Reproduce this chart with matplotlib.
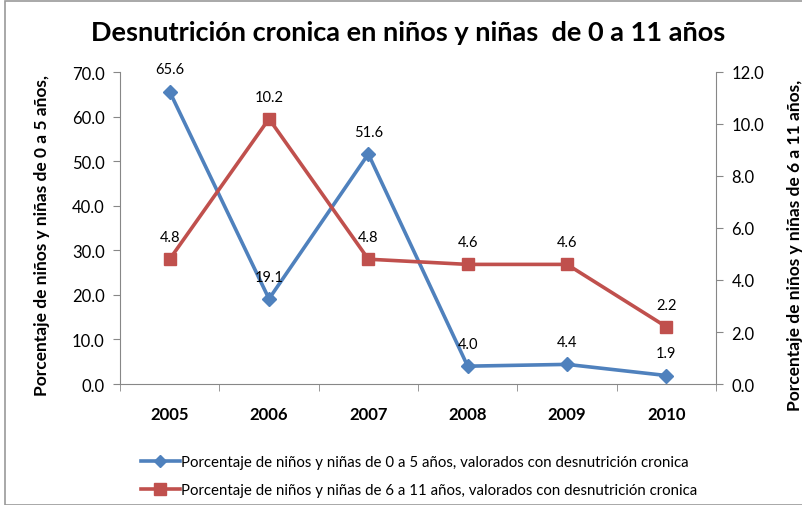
import matplotlib
matplotlib.use("Agg")
import matplotlib.pyplot as plt
from matplotlib.patches import Rectangle
from matplotlib.lines import Line2D

years = ["2005", "2006", "2007", "2008", "2009", "2010"]
ninos_0_5 = [65.6, 19.1, 51.6, 4.0, 4.4, 1.9]
ninos_6_11 = [4.8, 10.2, 4.8, 4.6, 4.6, 2.2]
left_ticks = [0, 10, 20, 30, 40, 50, 60, 70]
right_ticks = [0, 2, 4, 6, 8, 10, 12]
title = "Desnutrición cronica en niños y niñas  de 0 a 11 años"
ylabel_left = "Porcentaje de niños y niñas de 0 a 5 años,"
ylabel_right = "Porcentaje de niños y niñas de 6 a 11 años,"
legend_labels = ["Porcentaje de niños y niñas de 0 a 5 años, valorados con desnutrición cronica",
                 "Porcentaje de niños y niñas de 6 a 11 años, valorados con desnutrición cronica"]

plt.rcParams['font.family'] = ['Lato', 'DejaVu Sans']
BLUE = "#4F81BD"
RED = "#C0504D"
GRAY = "#878787"

W, H = 803, 506
fig = plt.figure(figsize=(W / 100, H / 100), dpi=100)
fig.patches.append(Rectangle((5 / W, 0), 1, 1 - 2 / H, transform=fig.transFigure,
                             fill=False, edgecolor="#9a9a9a", lw=1.2))

ax = fig.add_axes([120 / W, 1 - 385 / H, (716 - 120) / W, (385 - 73) / H])
ax2 = ax.twinx()
x = list(range(len(years)))

ax.plot(x, ninos_0_5, color=BLUE, lw=2.6, marker="D", ms=7, zorder=3)
ax2.plot(x, ninos_6_11, color=RED, lw=2.6, marker="s", ms=9, zorder=3)

for xi, v in zip(x, ninos_0_5):
    ax.annotate(f"{v:.1f}", (xi, v), xytext=(0, 11), textcoords="offset points",
                ha="center", va="bottom", fontsize=10.5)
for xi, v in zip(x, ninos_6_11):
    ax2.annotate(f"{v:.1f}", (xi, v), xytext=(0, 11), textcoords="offset points",
                 ha="center", va="bottom", fontsize=10.5)

ax.set_xlim(-0.5, len(years) - 0.5)
ax.set_ylim(0, 70)
ax2.set_ylim(0, 12)
ax.set_yticks(left_ticks)
ax.set_yticklabels([f"{t:.1f}" for t in left_ticks], fontsize=12)
ax2.set_yticks(right_ticks)
ax2.set_yticklabels([f"{t:.1f}" for t in right_ticks], fontsize=12)
ax.set_xticks(x)
ax.set_xticklabels(years, fontsize=12, fontweight="bold")
ax.set_xticks([i - 0.5 for i in range(len(years) + 1)], minor=True)
ax.tick_params(axis="x", which="major", length=0, pad=16)
ax.tick_params(axis="x", which="minor", length=5, color=GRAY, direction="out")
ax.tick_params(axis="y", length=5, color=GRAY, direction="out", pad=6)
ax2.tick_params(axis="y", length=5, color=GRAY, direction="out", pad=6)

for a in (ax, ax2):
    a.spines["top"].set_visible(False)
    for s in ("left", "right", "bottom"):
        a.spines[s].set_color(GRAY)
ax.spines["right"].set_visible(False)
ax2.spines["left"].set_visible(False)
ax2.spines["bottom"].set_visible(False)

fig.text(408 / W, 1 - 33 / H, title, ha="center", va="center", fontsize=19.5, fontweight="bold")
fig.text(42 / W, 1 - 236 / H, ylabel_left, rotation=90, ha="center", va="center",
         fontsize=12.5, fontweight="bold")
fig.text(795 / W, 1 - 245 / H, ylabel_right, rotation=90, ha="center", va="center",
         fontsize=12.5, fontweight="bold")

handles = [Line2D([], [], color=BLUE, lw=2.6, marker="D", ms=6),
           Line2D([], [], color=RED, lw=2.6, marker="s", ms=8)]
fig.legend(handles, legend_labels, loc="center", bbox_to_anchor=(419 / W, 1 - 477 / H),
           ncol=1, frameon=False, fontsize=10.8, handlelength=2.6, handletextpad=0.1,
           labelspacing=0.95)

fig.savefig("out.png", dpi=100)
